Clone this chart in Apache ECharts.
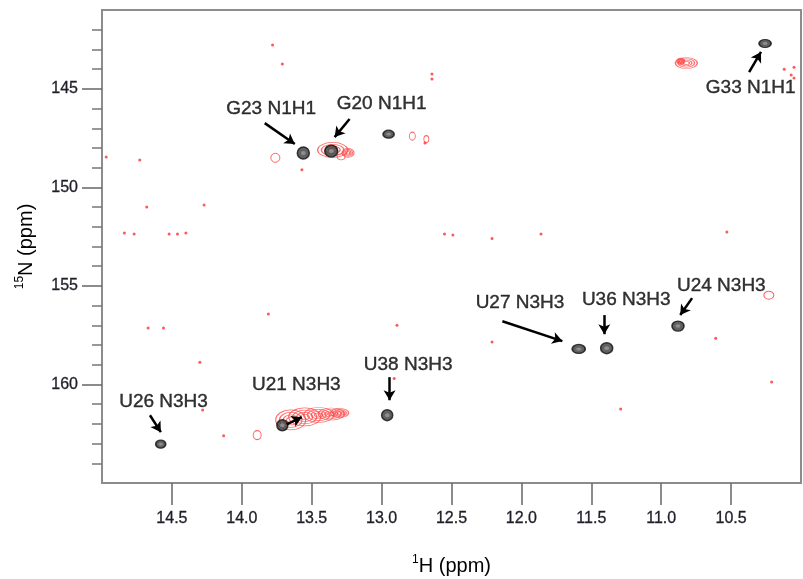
<!DOCTYPE html>
<html>
<head>
<meta charset="utf-8">
<script src="https://cdn.jsdelivr.net/npm/echarts@6/dist/echarts.min.js"></script>
<style>
  html, body { margin: 0; padding: 0; background: #fff; }
  #main { width: 803px; height: 579px; }
</style>
</head>
<body>
<div id="main"></div>
<script>
// 1H / 15N ranges and ticks (ppm)
var hTicks = [14.5, 14.0, 13.5, 13.0, 12.5, 12.0, 11.5, 11.0, 10.5];
var nTicks = [145, 150, 155, 160];
var nMinor = [142, 143, 144, 146, 147, 148, 149, 151, 152, 153, 154, 156, 157, 158, 159, 161, 162, 163, 164];

// black peaks
var peakH = [10.257, 13.56, 13.36, 12.95, 11.59, 11.39, 10.88, 12.96, 13.71, 14.58];
var peakN = [142.70, 148.26, 148.16, 147.30, 158.20, 158.16, 157.04, 161.56, 162.07, 163.03];
var peakShape = [[12, 8], [12, 12], [13, 12], [11, 8], [13, 9], [12, 11], [12, 10], [11, 11], [11, 11], [10, 8]];

// assignments
var labelNames = ['G33 N1H1', 'G23 N1H1', 'G20 N1H1', 'U27 N3H3', 'U36 N3H3', 'U24 N3H3', 'U38 N3H3', 'U21 N3H3', 'U26 N3H3'];
var labelH = [10.36, 13.79, 13.00, 12.01, 11.25, 10.57, 12.81, 13.61, 14.56];
var labelN = [144.96, 146.03, 145.77, 155.87, 155.72, 155.01, 159.02, 160.04, 160.90];
var arrowFrom = [[10.371, 144.15], [13.836, 146.74], [13.229, 146.53], [12.136, 156.79], [11.407, 156.48], [10.779, 155.62], [12.943, 159.63], [13.679, 162.02], [14.657, 161.56]];
var arrowTo = [[10.286, 143.13], [13.621, 147.80], [13.336, 147.45], [11.707, 157.80], [11.407, 157.45], [10.864, 156.48], [12.943, 160.80], [13.571, 161.66], [14.579, 162.42]];

// red reference spectrum: specks, small contours, larger clusters
var speckH = [13.78, 13.71, 14.97, 14.73, 14.27, 14.68, 14.84, 14.77, 14.52, 14.46, 14.40, 12.55, 14.67, 14.56, 13.81, 12.89, 12.64, 12.69, 12.49, 12.21, 11.86, 10.53, 10.61, 12.21, 10.21, 11.29, 14.30, 14.28, 14.13, 12.91, 10.12, 10.07, 10.05, 13.57, 10.05, 12.64];
var speckN = [142.78, 143.74, 148.46, 148.61, 150.90, 151.00, 152.32, 152.37, 152.37, 152.37, 152.32, 152.37, 157.14, 157.14, 156.43, 157.00, 144.50, 147.75, 152.42, 152.60, 152.37, 152.27, 157.65, 157.85, 159.88, 161.25, 158.87, 161.30, 162.60, 159.70, 144.00, 144.30, 144.45, 149.10, 143.90, 144.25];
var ringH = [13.76, 12.78, 13.89, 10.23, 13.29, 12.68];
var ringN = [148.50, 147.40, 162.57, 155.47, 148.45, 147.55];
var blobH = [13.35, 13.24, 10.82, 10.86, 13.65, 13.55, 13.45, 13.36, 13.30];
var blobN = [148.10, 148.25, 143.69, 143.60, 161.80, 161.65, 161.55, 161.50, 161.45];

var blobShape = [[30, 15], [12, 9], [22, 11], [8, 6], [30, 20], [32, 18], [30, 15], [26, 12], [18, 9]];
var ringShape = [[9, 9], [6, 8], [8, 9], [10, 8], [8, 6], [5, 7]];

var chart = echarts.init(document.getElementById('main'), null, { renderer: 'canvas' });

var FONT = "'Liberation Sans', Arial, sans-serif";

var blobData = [];
blobH.forEach(function (h, i) {
  [1.0, 0.75, 0.5, 0.28].forEach(function (k) {
    blobData.push({ value: [h, blobN[i]], symbolSize: [blobShape[i][0] * k, blobShape[i][1] * k] });
  });
});

var ringData = ringH.map(function (h, i) {
  return { value: [h, ringN[i]], symbolSize: ringShape[i] };
});

var peakOuter = peakH.map(function (h, i) {
  return { value: [h, peakN[i]], symbolSize: peakShape[i] };
});
var peakInner = peakH.map(function (h, i) {
  return { value: [h, peakN[i]], symbolSize: [peakShape[i][0] * 0.4, peakShape[i][1] * 0.35] };
});

var arrowLines = arrowFrom.map(function (p, i) {
  return [{ coord: p }, { coord: arrowTo[i] }];
});

var option = {
  backgroundColor: '#fff',
  animation: false,
  grid: {
    left: 102, right: 2, top: 10, bottom: 96,
    outerBoundsMode: 'none',
    show: true, borderColor: '#8c8c8c', borderWidth: 2
  },
  xAxis: {
    type: 'value', inverse: true, min: 10, max: 15, interval: 0.5,
    name: '{sup|1}H (ppm)', nameLocation: 'middle', nameGap: 71,
    nameTextStyle: {
      fontFamily: FONT, fontSize: 20, color: '#000', lineHeight: 24,
      rich: { sup: { fontSize: 12, verticalAlign: 'top', lineHeight: 24, fontFamily: FONT } }
    },
    axisLine: { show: true, lineStyle: { color: '#8c8c8c', width: 2 } },
    axisTick: { show: true, inside: false, length: 22, customValues: hTicks, lineStyle: { color: '#666', width: 1.5 } },
    axisLabel: {
      customValues: hTicks, margin: 28, fontFamily: FONT, fontSize: 16, color: '#1e1e28',
      textBorderColor: '#1e1e28', textBorderWidth: 0.3,
      formatter: function (v) { return v.toFixed(1); }
    },
    splitLine: { show: false }
  },
  yAxis: [{
    type: 'value', inverse: true, min: 141, max: 165, interval: 1,
    name: '{sup|15}N (ppm)', nameLocation: 'middle', nameGap: 64, nameRotate: 90,
    nameTextStyle: {
      fontFamily: FONT, fontSize: 20, color: '#000', lineHeight: 24,
      rich: { sup: { fontSize: 12, verticalAlign: 'top', lineHeight: 24, fontFamily: FONT } }
    },
    axisLine: { show: true, lineStyle: { color: '#8c8c8c', width: 2 } },
    axisTick: { show: true, inside: false, length: 20, customValues: nTicks, lineStyle: { color: '#666', width: 1.5 } },
    axisLabel: {
      customValues: nTicks, margin: 24, fontFamily: FONT, fontSize: 16, color: '#1e1e28',
      textBorderColor: '#1e1e28', textBorderWidth: 0.3
    },
    splitLine: { show: false }
  }, {
    type: 'value', inverse: true, min: 141, max: 165, interval: 1, position: 'left',
    axisLine: { show: false },
    axisTick: { show: true, inside: false, length: 10, customValues: nMinor, lineStyle: { color: '#777', width: 1.5 } },
    axisLabel: { show: false },
    splitLine: { show: false }
  }],
  series: [
    {
      type: 'scatter', name: 'specks', silent: true, symbol: 'circle', symbolSize: 3,
      itemStyle: { color: '#ff3b3b', opacity: 0.85 },
      data: speckH.map(function (h, i) { return [h, speckN[i]]; })
    },
    {
      type: 'scatter', name: 'rings', silent: true, symbol: 'circle',
      itemStyle: { color: 'rgba(0,0,0,0)', borderColor: '#ff4040', borderWidth: 1 },
      data: ringData
    },
    {
      type: 'scatter', name: 'clusters', silent: true, symbol: 'circle',
      itemStyle: { color: 'rgba(0,0,0,0)', borderColor: '#ff4a4a', borderWidth: 1 },
      data: blobData
    },
    {
      type: 'scatter', name: 'peaks', silent: true, symbol: 'circle',
      itemStyle: { color: '#3a3a3a', borderColor: '#111', borderWidth: 1.5 },
      data: peakOuter
    },
    {
      type: 'scatter', name: 'peakCore', silent: true, symbol: 'circle',
      itemStyle: { color: '#9a9a9a' },
      data: peakInner
    },
    {
      type: 'scatter', name: 'labels', silent: true, symbol: 'circle', symbolSize: 1,
      itemStyle: { color: 'rgba(0,0,0,0)' },
      label: {
        show: true, position: 'inside', fontFamily: FONT, fontSize: 19, color: '#000',
        textBorderColor: '#000', textBorderWidth: 0.4,
        formatter: function (p) { return labelNames[p.dataIndex]; }
      },
      data: labelH.map(function (h, i) { return [h, labelN[i]]; }),
      markLine: {
        silent: true, symbol: ['none', 'arrow'], symbolSize: [9, 10],
        label: { show: false },
        lineStyle: { color: '#000', width: 2.5, type: 'solid' },
        data: arrowLines
      }
    }
  ]
};

chart.setOption(option);
</script>
</body>
</html>
